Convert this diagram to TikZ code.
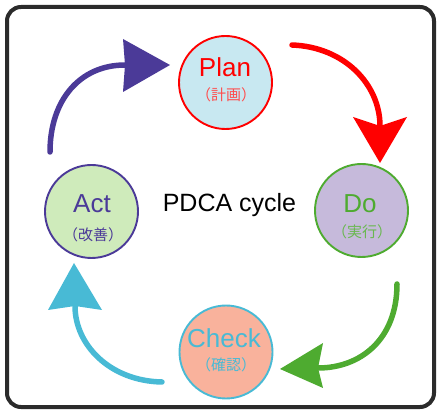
\documentclass[tikz,border=0pt]{standalone}
\usepackage{fontspec}
\setmainfont{Liberation Sans}
\newfontfamily\jp{Noto Sans CJK JP}
\definecolor{framec}{HTML}{2B2B2B}
\definecolor{planfill}{HTML}{C8E8F1}
\definecolor{dofill}{HTML}{C6BADB}
\definecolor{checkfill}{HTML}{F9B29C}
\definecolor{actfill}{HTML}{CFEBBB}
\definecolor{cred}{HTML}{FF0000}
\definecolor{cgreen}{HTML}{4EAB30}
\definecolor{cblue}{HTML}{48BAD5}
\definecolor{cpurple}{HTML}{4B3A98}
\newcommand{\jpsize}{\fontsize{15pt}{16pt}\jp\selectfont}
\tikzset{
  phase/.style={circle, minimum size=93pt, inner sep=0pt, line width=1.9pt},
  bigtext/.style={font=\fontsize{26}{26}\selectfont, anchor=base},
  jptext/.style={font=\jpsize},
  shaft/.style={line width=5.5pt, line cap=round},
}
\begin{document}
\begin{tikzpicture}[x=1pt,y=-1pt]
\useasboundingbox (0,0) rectangle (439,411);
\draw[framec, line width=4pt, rounded corners=14pt] (7,7) rectangle (434,407);

% circles
\node[phase, draw=cred, fill=planfill] (plan) at (225.5,82.5) {};
\node[phase, draw=cgreen, fill=dofill] (do) at (361.5,210.5) {};
\node[phase, draw=cblue, fill=checkfill] (check) at (226,352) {};
\node[phase, draw=cpurple, fill=actfill] (act) at (91.5,211.5) {};

% labels
\node[bigtext, text=cred] (plant) at (225,77) {Plan};
\node[jptext, text=cred!70] (planj) at (226,95) {（計画）};
\node[bigtext, text=cgreen] (dot) at (360,213) {Do};
\node[jptext, text=cgreen!85] (doj) at (362,232) {（実行）};
\node[bigtext, text=cblue] (checkt) at (224,348) {Check};
\node[jptext, text=cblue] (checkj) at (226,365) {（確認）};
\node[bigtext, text=cpurple] (actt) at (92,213) {Act};
\node[jptext, text=cpurple] (actj) at (93,235) {（改善）};
\node[font=\fontsize{25}{25}\selectfont, anchor=base, text=black] (title) at (229.5,212) {PDCA cycle};

% arrow end points
\coordinate (p0) at (50,152);   \coordinate (p1) at (125,65);  \coordinate (pt) at (170,65);
\coordinate (r0) at (292,45);   \coordinate (r1) at (380,126); \coordinate (rt) at (380,163);
\coordinate (g0) at (397,284);  \coordinate (g1) at (318,368); \coordinate (gt) at (280,369);
\coordinate (b0) at (162,382);  \coordinate (b1) at (75,306);  \coordinate (bt) at (74,263);

% purple: act -> plan
\draw[shaft, cpurple] (p0) .. controls (50,100) and (80,65) .. (p1);
\fill[cpurple] (pt) -- (123,39) -- (p1) -- (123,92) -- cycle;
% red: plan -> do
\draw[shaft, cred] (r0) .. controls (345,47) and (380,85) .. (r1);
\fill[cred] (rt) -- (353,117) -- (r1) -- (407,117) -- cycle;
% green: do -> check
\draw[shaft, cgreen] (g0) .. controls (397,340) and (360,368) .. (g1);
\fill[cgreen] (gt) -- (323,343) -- (g1) -- (323,388) -- cycle;
% blue: check -> act
\draw[shaft, cblue] (b0) .. controls (110,381) and (75,345) .. (b1);
\fill[cblue] (bt) -- (48,310) -- (b1) -- (102,310) -- cycle;
\end{tikzpicture}
\end{document}
